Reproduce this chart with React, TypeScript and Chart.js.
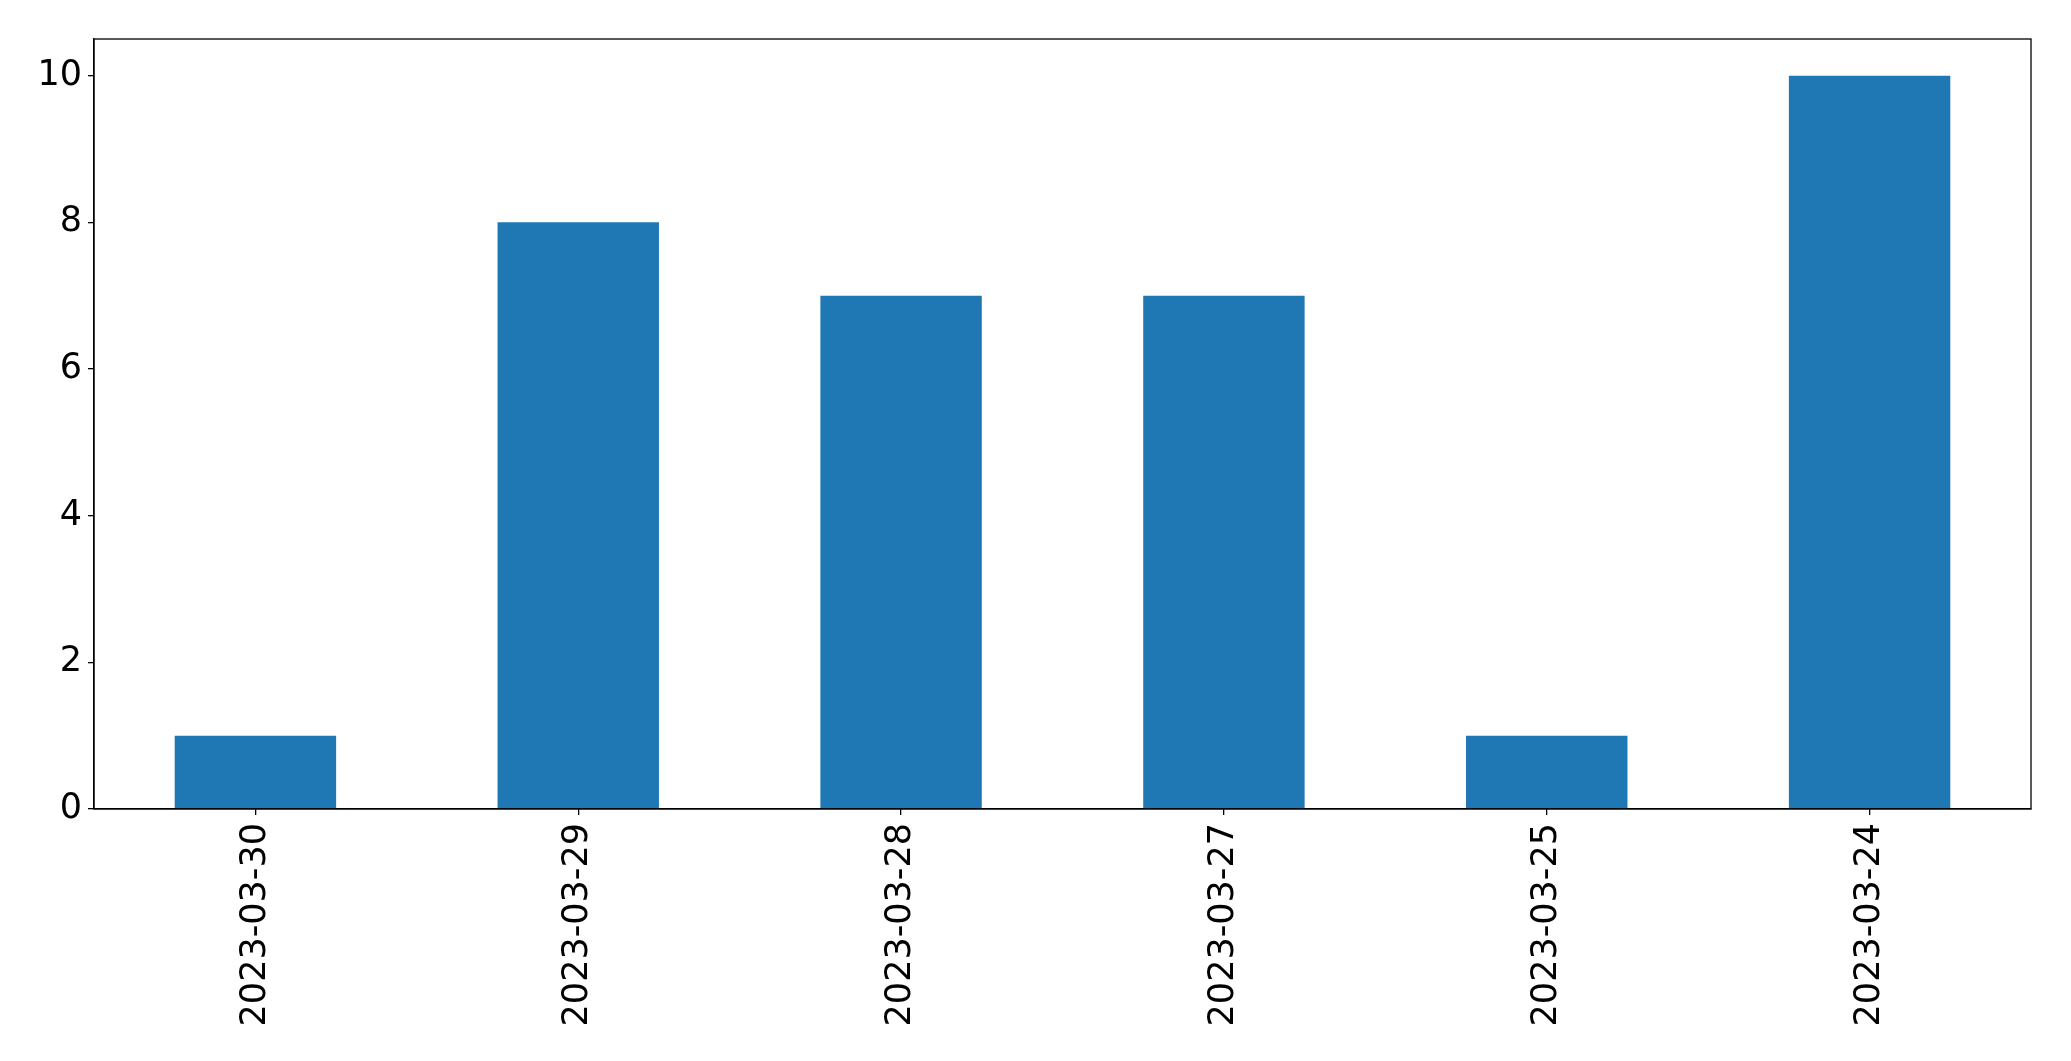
import React, { useEffect, useRef } from "react";
import { Chart, registerables } from "chart.js";

Chart.register(...registerables);

const categories = ["2023-03-30", "2023-03-29", "2023-03-28", "2023-03-27", "2023-03-25", "2023-03-24"];
const values = [1, 8, 7, 7, 1, 10];
const yTicks = [0, 2, 4, 6, 8, 10];

const W = 2071;
const H = 1061;
const LEFT = 94;
const TOP = 39;
const RIGHT = 2031;
const BOTTOM = 809;

const framePlugin = {
  id: "frame",
  afterDraw(chart: any) {
    const { ctx, chartArea } = chart;
    ctx.save();
    ctx.strokeStyle = "#000";
    ctx.lineWidth = 1.3;
    ctx.strokeRect(chartArea.left, chartArea.top, chartArea.right - chartArea.left, chartArea.bottom - chartArea.top);
    ctx.restore();
  },
};

export default function App() {
  const ref = useRef<HTMLCanvasElement>(null);
  useEffect(() => {
    if (!ref.current) return;
    const font = { family: "'DejaVu Sans'", size: 35 };
    const chart = new Chart(ref.current, {
      type: "bar",
      data: {
        labels: categories,
        datasets: [
          {
            data: values,
            backgroundColor: "#1f77b4",
            categoryPercentage: 1,
            barPercentage: 0.5,
          },
        ],
      },
      options: {
        animation: false,
        responsive: false,
        devicePixelRatio: 1,
        layout: { padding: { top: TOP, right: W - RIGHT, left: 0, bottom: 0 } },
        plugins: { legend: { display: false }, tooltip: { enabled: false } },
        scales: {
          x: {
            grid: { display: true, offset: false, drawOnChartArea: false, drawTicks: true, tickLength: 6, color: "#000", lineWidth: 1.3 },
            border: { display: true, color: "#000", width: 1.3 },
            ticks: { color: "#000", font, maxRotation: 90, minRotation: 90, padding: 8 },
            afterFit(scale: any) {
              scale.height = H - BOTTOM;
            },
          },
          y: {
            min: 0,
            max: 10.5,
            grid: { display: true, drawOnChartArea: false, drawTicks: true, tickLength: 6, color: "#000", lineWidth: 1.3 },
            border: { display: true, color: "#000", width: 1.3 },
            ticks: { color: "#000", font, padding: 6, includeBounds: false },
            afterBuildTicks(scale: any) {
              scale.ticks = yTicks.map((v) => ({ value: v }));
            },
            afterFit(scale: any) {
              scale.width = LEFT;
            },
          },
        },
      },
      plugins: [framePlugin],
    });
    return () => chart.destroy();
  }, []);
  return (
    <div style={{ position: "fixed", left: 0, top: 0, width: W, height: H, background: "#fff" }}>
      <canvas ref={ref} width={W} height={H} style={{ width: W, height: H }} />
    </div>
  );
}
